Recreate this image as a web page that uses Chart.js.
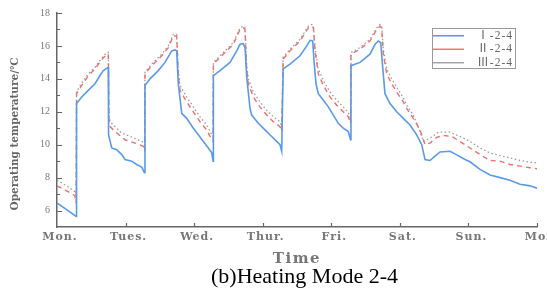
<!DOCTYPE html>
<html><head><meta charset="utf-8">
<script src="https://cdn.jsdelivr.net/npm/chart.js@4.4.1/dist/chart.umd.min.js"></script>
<style>html,body{margin:0;padding:0;background:#fff;overflow:hidden}</style>
</head><body><canvas id="c" width="547" height="302"></canvas>
<script>
const dayLabels = ['Mon.','Tues.','Wed.','Thur.','Fri.','Sat.','Sun.','Mon'];
const dayTicks = [0,1,2,3,4,5,6,7];
const yTicks = [6,8,10,12,14,16,18];
const seriesNames = ['Ⅰ-2-4','Ⅱ-2-4','Ⅲ-2-4'];
const yTitle = 'Operating temperature/℃';
const xTitle = 'Time';
const caption = '(b)Heating Mode 2-4';

const seriesI = [[0,6.46],[0.14,6.05],[0.28,5.64],
[0.285,12.5],[0.36,12.9],[0.456,13.3],[0.554,13.7],[0.627,14.2],[0.675,14.5],[0.725,14.64],[0.748,14.7],
[0.752,10.6],[0.798,9.8],[0.871,9.7],[0.944,9.4],[0.992,9.1],[1.089,9.0],[1.162,8.8],[1.235,8.64],[1.275,8.3],
[1.283,13.6],[1.356,14.0],[1.477,14.5],[1.575,15.0],[1.673,15.7],[1.721,15.76],[1.745,15.7],
[1.769,13.7],[1.819,11.9],[1.891,11.6],[1.988,11.0],[2.061,10.6],[2.134,10.2],[2.207,9.8],[2.256,9.5],[2.276,9.0],
[2.281,14.2],[2.377,14.5],[2.523,15.0],[2.621,15.7],[2.669,16.1],[2.717,16.14],[2.742,15.9],
[2.767,14.1],[2.815,12.2],[2.839,11.8],[2.936,11.3],[3.033,10.9],[3.131,10.5],[3.204,10.2],[3.252,10.0],[3.277,9.6],
[3.298,14.6],[3.398,14.9],[3.544,15.4],[3.642,16.0],[3.69,16.34],[3.729,16.3],
[3.748,15.1],[3.777,13.7],[3.811,13.1],[3.884,12.7],[3.957,12.3],[4.03,11.8],[4.102,11.3],[4.175,11.0],[4.248,10.8],[4.281,10.3],
[4.287,14.8],[4.419,15.0],[4.565,15.5],[4.638,16.1],[4.686,16.3],[4.721,16.2],
[4.75,14.7],[4.783,13.1],[4.856,12.5],[4.954,12.0],[5.05,11.6],[5.148,11.2],[5.246,10.6],[5.319,10.0],[5.367,9.1],[5.44,9.04],[5.513,9.3],[5.586,9.56],[5.731,9.6],[5.804,9.44],[5.95,9.1],[6.023,8.96],[6.169,8.5],[6.315,8.16],[6.461,8.0],[6.606,7.84],[6.752,7.6],[6.898,7.5],[7.0,7.36]];

const seriesII = [[0,7.5],[0.14,7.2],[0.26,6.9],[0.28,6.45],
[0.285,13.1],[0.36,13.6],[0.456,14.2],[0.554,14.6],[0.64,15.1],[0.725,15.5],[0.748,15.5],
[0.758,11.5],[0.773,11.1],[0.846,10.8],[0.992,10.3],[1.138,10.1],[1.259,9.9],[1.278,9.6],
[1.283,14.3],[1.381,14.8],[1.527,15.4],[1.623,15.9],[1.696,16.6],[1.745,16.6],
[1.77,14.2],[1.794,13.3],[1.891,12.6],[1.988,12.0],[2.085,11.4],[2.183,10.9],[2.256,10.3],[2.276,10.2],
[2.281,14.9],[2.425,15.5],[2.571,16.1],[2.669,17.0],[2.717,17.1],[2.742,17.0],
[2.765,14.6],[2.79,13.7],[2.863,12.9],[2.96,12.3],[3.058,11.8],[3.154,11.4],[3.252,11.1],[3.277,10.8],
[3.298,15.2],[3.398,15.7],[3.544,16.3],[3.665,17.1],[3.714,17.2],[3.74,17.1],
[3.763,15.7],[3.811,14.3],[3.884,13.6],[3.981,12.9],[4.079,12.4],[4.175,12.0],[4.248,11.7],[4.281,11.3],
[4.287,15.5],[4.419,15.8],[4.565,16.3],[4.662,17.0],[4.711,17.2],[4.735,17.1],
[4.759,15.5],[4.808,14.3],[4.881,13.7],[4.954,13.2],[5.05,12.6],[5.1,12.2],[5.196,11.6],[5.294,10.9],[5.367,10.0],[5.44,10.1],[5.537,10.44],[5.634,10.56],[5.756,10.5],[5.877,10.2],[6.023,9.8],[6.169,9.4],[6.315,9.04],[6.461,9.0],[6.606,8.8],[6.752,8.7],[6.898,8.6],[7.0,8.54]];

const seriesIII = [[0,7.85],[0.14,7.5],[0.26,7.15],[0.28,6.9],
[0.285,13.2],[0.36,13.75],[0.456,14.3],[0.554,14.7],[0.64,15.2],[0.725,15.6],[0.748,15.6],
[0.758,11.8],[0.773,11.4],[0.944,10.7],[1.1,10.45],[1.259,10.15],[1.278,10.0],
[1.283,14.4],[1.381,14.9],[1.527,15.5],[1.623,16.0],[1.696,16.7],[1.745,16.7],
[1.77,14.5],[1.794,13.6],[1.891,12.9],[1.988,12.3],[2.085,11.7],[2.183,11.2],[2.256,10.6],[2.276,10.5],
[2.281,15.0],[2.425,15.6],[2.571,16.2],[2.669,17.1],[2.717,17.2],[2.742,17.1],
[2.765,14.9],[2.79,14.0],[2.863,13.2],[2.96,12.6],[3.058,12.1],[3.154,11.7],[3.252,11.4],[3.277,11.1],
[3.298,15.3],[3.398,15.8],[3.544,16.4],[3.665,17.2],[3.714,17.3],[3.74,17.2],
[3.763,15.9],[3.811,14.6],[3.884,13.9],[3.981,13.2],[4.079,12.7],[4.175,12.3],[4.248,11.95],[4.281,11.6],
[4.287,15.6],[4.419,15.9],[4.565,16.4],[4.662,17.1],[4.711,17.3],[4.735,17.2],
[4.759,15.8],[4.808,14.6],[4.881,14.0],[4.954,13.5],[5.05,12.85],[5.1,12.4],[5.196,11.8],[5.294,10.8],[5.342,10.2],[5.44,10.4],[5.561,10.76],[5.731,10.76],[5.877,10.5],[6.023,10.2],[6.169,9.8],[6.315,9.5],[6.461,9.34],[6.606,9.2],[6.752,9.04],[6.898,8.94],[7.0,8.9]];

const toPts = a => a.map(p => ({x: p[0], y: p[1]}));

const decorPlugin = {
  id: 'decor',
  afterLayout(chart) {
    const lg = chart.legend;
    if (lg) {
      lg.left = 431; lg.top = 28; lg.right = 513; lg.bottom = 74;
      lg.width = lg.right - lg.left; lg.height = lg.bottom - lg.top;
      if (!lg.__ls) {
        lg.__ls = true;
        const od = lg._draw;
        lg._draw = function () { const c = this.ctx; c.save(); c.letterSpacing = '1px'; od.call(this); c.restore(); };
      }
    }
    const tb = chart.titleBlock;
    if (tb && !tb.__sh) {
      tb.__sh = true;
      const td = tb.draw;
      tb.draw = function () { const c = this.ctx; c.save(); c.translate(36, 0); td.call(this); c.restore(); };
    }
    const xs = chart.scales.x;
    if (xs && !xs.__ls) {
      xs.__ls = true;
      const dl = xs.drawLabels, dt = xs.drawTitle;
      xs.drawLabels = function (area) { const c = this.ctx; c.save(); c.letterSpacing = '1px'; c.translate(3, 0); dl.call(this, area); c.restore(); };
      xs.drawTitle = function () { const c = this.ctx; c.save(); c.letterSpacing = '1.5px'; dt.call(this); c.restore(); };
    }
  },
  afterDraw(chart) {
    const {ctx, scales: {x, y}, chartArea: a} = chart;
    ctx.save();
    ctx.strokeStyle = '#666'; ctx.lineWidth = 1.2;
    ctx.beginPath();
    for (let v = Math.ceil(y.min) + 1; v <= y.max; v++) {
      const py = Math.round(y.getPixelForValue(v)) + 0.5;
      const len = (v % 2 === 0) ? 5 : 3;
      ctx.moveTo(a.left, py); ctx.lineTo(a.left + len, py);
    }
    dayTicks.forEach(d => {
      if (d === x.min) return;
      const px = Math.round(x.getPixelForValue(d)) + 0.5;
      ctx.moveTo(px, a.bottom); ctx.lineTo(px, a.bottom - 4);
    });
    ctx.stroke();
    const lg = chart.legend;
    ctx.strokeStyle = '#9a9a9a'; ctx.lineWidth = 1;
    ctx.strokeRect(lg.left + 1.5, lg.top + 0.5, 83, 40);
    ctx.translate(15, a.top + (a.bottom - a.top) * 0.565);
    ctx.rotate(-Math.PI / 2);
    ctx.fillStyle = '#666';
    ctx.font = 'bold 10.5px "DejaVu Serif"';
    ctx.textAlign = 'center'; ctx.textBaseline = 'middle';
    ctx.fillText(yTitle, 0, 0);
    ctx.restore();
  }
};

new Chart(document.getElementById('c').getContext('2d'), {
  type: 'line',
  data: {
    datasets: [
      {label: seriesNames[0], data: toPts(seriesI), borderColor: '#5b9ae6', backgroundColor: '#5b9ae6', borderWidth: 1.6, pointRadius: 0, tension: 0, fill: false},
      {label: seriesNames[1], data: toPts(seriesII), borderColor: '#ef6f6f', backgroundColor: '#ef6f6f', borderWidth: 1.4, borderDash: [5, 4], pointRadius: 0, tension: 0, fill: false},
      {label: seriesNames[2], data: toPts(seriesIII), borderColor: '#9a9a9a', backgroundColor: '#9a9a9a', borderWidth: 1.3, borderDash: [1.5, 2.5], pointRadius: 0, tension: 0, fill: false}
    ]
  },
  options: {
    responsive: false,
    animation: false,
    layout: {padding: {left: 0, right: 10, top: 10, bottom: 0}},
    scales: {
      x: {
        type: 'linear', min: 0, max: 7,
        afterBuildTicks: s => { s.ticks = dayTicks.map(v => ({value: v})); },
        afterFit: s => { s.height = 39.5; s.paddingLeft = 0; s.paddingRight = 0; },
        ticks: {autoSkip: false, maxRotation: 0, padding: 4, color: '#777',
          font: {family: 'DejaVu Serif', size: 11, weight: 'bold'},
          callback: (v, i) => dayLabels[i]},
        grid: {drawOnChartArea: false, drawTicks: false},
        border: {display: true, color: '#666', width: 1.5},
        title: {display: true, text: xTitle, color: '#777',
          font: {family: 'DejaVu Serif', size: 15, weight: 'bold', lineHeight: 1}, padding: {top: 0, bottom: 0}}
      },
      y: {
        min: 5, max: 18,
        afterBuildTicks: s => { s.ticks = yTicks.map(v => ({value: v})); },
        afterFit: s => { s.width = 57; },
        ticks: {padding: 7, color: '#777', font: {family: 'Liberation Serif', size: 10}},
        grid: {drawOnChartArea: false, drawTicks: false},
        border: {display: true, color: '#666', width: 1.5}
      }
    },
    plugins: {
      legend: {
        position: 'chartArea', align: 'start',
        labels: {usePointStyle: true, pointStyle: 'line', pointStyleWidth: 31, padding: 2, textAlign: 'right',
          color: '#666', font: {family: "'Liberation Serif', 'Noto Sans CJK SC'", size: 11.5}}
      },
      title: {display: true, position: 'bottom', text: caption, color: '#000',
        font: {family: "'Liberation Serif'", size: 22, weight: 'normal', lineHeight: 1}, padding: {top: 0, bottom: 13.5}},
      tooltip: {enabled: false}
    }
  },
  plugins: [decorPlugin]
});
</script>
</body></html>
